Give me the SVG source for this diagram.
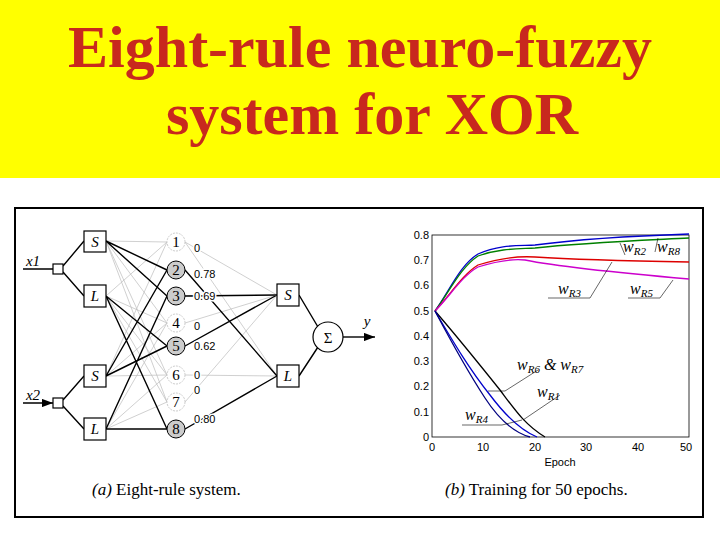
<svg xmlns="http://www.w3.org/2000/svg" width="720" height="540" viewBox="0 0 720 540">
<style>
.t{font-family:"Liberation Serif",serif;font-weight:bold;font-size:60px;fill:#c8281e;text-anchor:middle}
.bx{fill:#fff;stroke:#000;stroke-width:1.2}
.it{font-family:"Liberation Serif",serif;font-style:italic;font-size:15px;text-anchor:middle}
.cn{font-family:"Liberation Serif",serif;font-size:15px;text-anchor:middle}
.lb{font-family:"Liberation Sans",sans-serif;font-size:11px;paint-order:stroke;stroke:#fff;stroke-width:3}
.g{stroke:#bbb;stroke-width:0.7;fill:none}
.b{stroke:#000;stroke-width:1.4;fill:none}
.ax{font-family:"Liberation Sans",sans-serif;font-size:11px}
.w{font-family:"Liberation Serif",serif;font-style:italic;font-size:16px}
.s{font-size:11px}
.cap{font-family:"Liberation Serif",serif;font-size:17px}
</style>
<defs><marker id="ar" markerWidth="8" markerHeight="6" refX="8" refY="3" orient="auto"><path d="M0,0L8,3L0,6z"/></marker></defs>
<rect width="720" height="178" fill="#ffff00"/>
<text class="t" x="360" y="67">Eight-rule neuro-fuzzy</text>
<text class="t" x="372" y="134">system for XOR</text>
<rect x="15" y="208" width="688" height="309" fill="#fff" stroke="#000" stroke-width="2"/>
<g id="connectors">
<path class="g" d="M106,241L167,242M106,241L167,323M106,241L167,375M106,241L167,402M106,296L167,242M106,296L167,375M106,296L167,402M106,296L167,323M106,376L167,242M106,376L167,375M106,376L167,323M106,429L167,323M106,429L167,402M106,429L167,375"/>
<path class="b" d="M106,241L167,270M106,241L167,296M106,296L167,346M106,296L167,429M106,376L167,270M106,376L167,346M106,429L167,296M106,429L167,429"/>
<path class="g" d="M185,242L277,295M185,323L277,295M185,375L277,376M185,402L277,295M185,242L277,376"/>
<path class="b" d="M185,270L277,376M185,296L277,295M185,346L277,295M185,429L277,376"/>
<path class="b" d="M343,337L375,337" marker-end="url(#ar)"/>
<path class="b" d="M299,295L318,327M299,376L318,347"/>
<path class="b" d="M23,269L53,269M23,403L53,403" marker-end="url(#ar)"/>
<path class="b" d="M63,266L84,241M63,272L84,296M63,400L84,376M63,406L84,429"/>
</g>
<g id="inputs"><rect class="bx" x="53" y="264" width="10" height="10"/><rect class="bx" x="53" y="398" width="10" height="10"/>
<text class="it" x="33" y="266">x1</text>
<text class="it" x="33" y="400">x2</text></g>
<g id="mf">
<rect class="bx" x="84" y="231" width="22" height="21"/><text class="it" x="95" y="247">S</text>
<rect class="bx" x="84" y="285" width="22" height="22"/><text class="it" x="95" y="301">L</text>
<rect class="bx" x="84" y="365" width="22" height="22"/><text class="it" x="95" y="381">S</text>
<rect class="bx" x="84" y="418" width="22" height="22"/><text class="it" x="95" y="434">L</text>
</g>
<g id="rules">
<circle cx="176" cy="242" r="9" fill="#fff" stroke="#ccc" stroke-dasharray="2,1"/><text class="cn" x="176" y="247">1</text>
<circle cx="176" cy="270" r="9" fill="#ccc" stroke="#000"/><text class="cn" x="176" y="275">2</text>
<circle cx="176" cy="296" r="9" fill="#ccc" stroke="#000"/><text class="cn" x="176" y="301">3</text>
<circle cx="176" cy="323" r="9" fill="#fff" stroke="#ccc" stroke-dasharray="2,1"/><text class="cn" x="176" y="328">4</text>
<circle cx="176" cy="346" r="9" fill="#ccc" stroke="#000"/><text class="cn" x="176" y="351">5</text>
<circle cx="176" cy="375" r="9" fill="#fff" stroke="#ccc" stroke-dasharray="2,1"/><text class="cn" x="176" y="380">6</text>
<circle cx="176" cy="402" r="9" fill="#fff" stroke="#ccc" stroke-dasharray="2,1"/><text class="cn" x="176" y="407">7</text>
<circle cx="176" cy="429" r="9" fill="#ccc" stroke="#000"/><text class="cn" x="176" y="434">8</text>
<text class="lb" x="194" y="252">0</text><text class="lb" x="194" y="278">0.78</text><text class="lb" x="194" y="300">0.69</text>
<text class="lb" x="194" y="330">0</text><text class="lb" x="194" y="350">0.62</text><text class="lb" x="194" y="379">0</text>
<text class="lb" x="194" y="394">0</text><text class="lb" x="194" y="423">0.80</text>
</g>
<g id="out">
<rect class="bx" x="277" y="284" width="22" height="22"/><text class="it" x="288" y="300">S</text>
<rect class="bx" x="277" y="365" width="22" height="22"/><text class="it" x="288" y="381">L</text>
<circle cx="328" cy="337" r="15" fill="#fff" stroke="#000" stroke-width="1.2"/><text class="cn" x="328" y="343" font-size="18">Σ</text>
<text class="it" x="367" y="326">y</text>
</g>
<text class="cap" x="92" y="495"><tspan font-style="italic">(a)</tspan> Eight-rule system.</text>
<g id="plot">
<rect x="432" y="235" width="257" height="202" fill="none" stroke="#000" stroke-width="0.8"/>
<g class="ax" text-anchor="end">
<text x="429" y="239">0.8</text><text x="429" y="264">0.7</text><text x="429" y="289">0.6</text><text x="429" y="315">0.5</text><text x="429" y="340">0.4</text><text x="429" y="365">0.3</text><text x="429" y="390">0.2</text><text x="429" y="416">0.1</text><text x="429" y="441">0</text></g>
<g class="ax" text-anchor="middle"><text x="432" y="451">0</text><text x="483" y="451">10</text><text x="535" y="451">20</text><text x="586" y="451">30</text><text x="638" y="451">40</text><text x="686" y="451">50</text><text x="560" y="466">Epoch</text></g>
<g fill="none" stroke-width="1.3">
<path stroke="#0000cc" d="M435,311C450,290 460,265 478,254C500,244 520,246 535,245C580,239 630,236 689,234"/>
<path stroke="#008000" d="M435,311C450,291 460,268 478,256C500,248 520,249 535,248C580,243 630,241 689,238"/>
<path stroke="#dd0000" d="M435,311C450,295 462,275 478,265C500,258 520,256 535,257C580,260 630,261 689,262"/>
<path stroke="#cc00cc" d="M435,311C450,296 462,276 478,267C500,260 515,259 525,260C560,267 620,273 689,279"/>
<path stroke="#000" d="M435,311C460,340 480,365 500,390C515,410 525,425 545,437"/>
<path stroke="#0000cc" d="M435,311C455,345 470,370 490,395C505,415 520,430 537,437"/>
<path stroke="#000080" d="M435,311C453,345 468,372 485,398C498,418 512,432 530,437"/>
</g>
<g stroke="#000" stroke-width="0.6" fill="none">
<path d="M620,243L625,255M658,238L655,252M612,262L590,298L548,298M673,280L660,298L628,298M538,370L505,391L488,391M560,395L523,420M522,420L502,425L462,425"/>
</g>
<text class="w" x="623" y="252">w<tspan class="s" dy="3">R2</tspan></text>
<text class="w" x="657" y="252">w<tspan class="s" dy="3">R8</tspan></text>
<text class="w" x="558" y="294">w<tspan class="s" dy="3">R3</tspan></text>
<text class="w" x="630" y="294">w<tspan class="s" dy="3">R5</tspan></text>
<text class="w" x="517" y="370">w<tspan class="s" dy="3">R6</tspan><tspan dy="-3"> &amp; w</tspan><tspan class="s" dy="3">R7</tspan></text>
<text class="w" x="537" y="397">w<tspan class="s" dy="3">R1</tspan></text>
<text class="w" x="465" y="420">w<tspan class="s" dy="3">R4</tspan></text>
</g>
<text class="cap" x="445" y="495"><tspan font-style="italic">(b)</tspan> Training for 50 epochs.</text>
</svg>
